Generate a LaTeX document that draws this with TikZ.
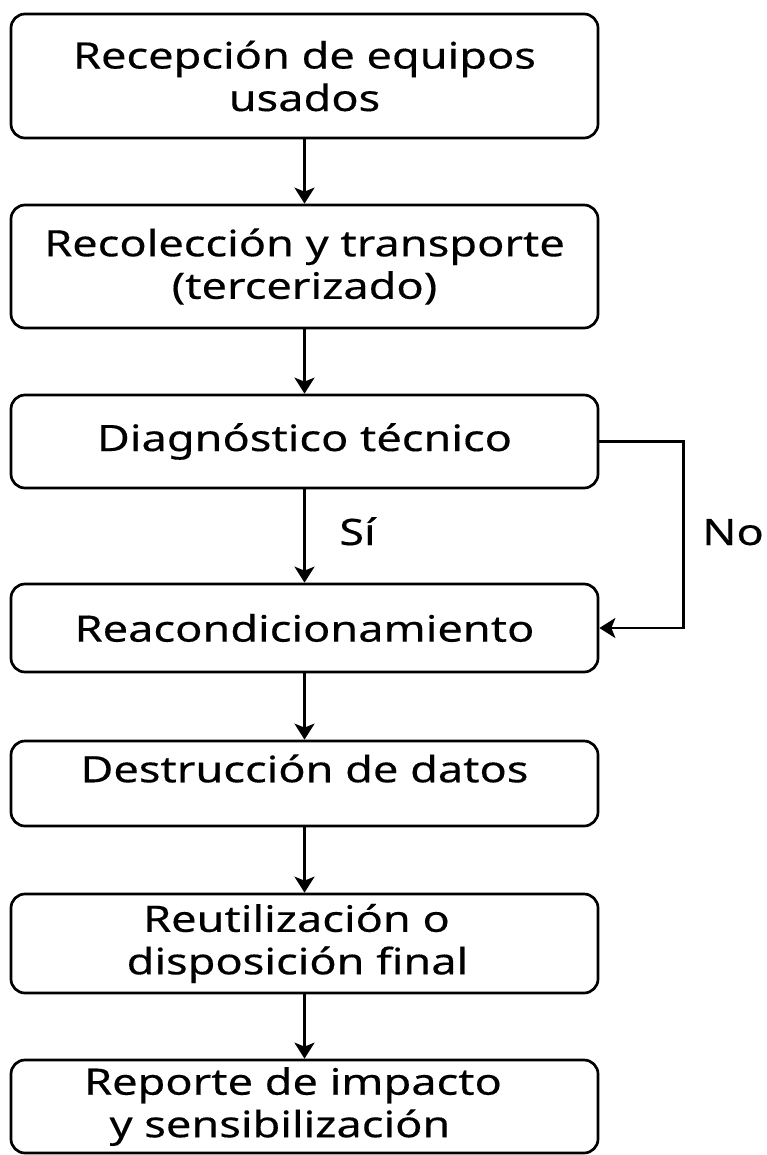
\documentclass[tikz,border=0pt]{standalone}
\usepackage{fontspec}
\setmainfont{Noto Sans}[FakeStretch=1.24,FakeBold=0.3]
\usetikzlibrary{arrows.meta}
\begin{document}
\begin{tikzpicture}[x=1pt,y=-1pt,
  stepbox/.style={draw, line width=2.7pt, rounded corners=14pt, minimum width=587pt, inner sep=0pt, align=center, font=\fontsize{36.4}{42.5}\selectfont},
  conn/.style={line width=2.7pt, -{Stealth[length=16pt,width=20pt,inset=4pt]}},
  lbl/.style={font=\fontsize{36.4}{42.5}\selectfont, inner sep=0pt}]
\useasboundingbox[fill=white] (0,0) rectangle (766,1155);
\node[stepbox, minimum height=124pt] (n1) at (304.5,76) {Recepción de equipos\\usados};
\node[stepbox, minimum height=123pt] (n2) at (304.5,266.5) {Recolección y transporte\\(tercerizado)};
\node[stepbox, minimum height=93pt] (n3) at (304.5,441.5) {Diagnóstico técnico};
\node[stepbox, minimum height=88pt] (n4) at (304.5,628) {Reacondicionamiento};
\node[stepbox, minimum height=85pt] (n5) at (304.5,783.5) {\raisebox{15pt}[\height][\depth]{Destrucción de datos}};
\node[stepbox, minimum height=99pt] (n6) at (304.5,943.5) {Reutilización o\hspace*{16pt}\\disposición final\hspace*{14pt}};
\node[stepbox, minimum height=93pt] (n7) at (304.5,1106.5) {Reporte de impacto\hspace*{23pt}\\y sensibilización\hspace*{49pt}};
\draw[conn] (n1) -- (n2);
\draw[conn] (n2) -- (n3);
\draw[conn] (n3) -- (n4);
\draw[conn] (n4) -- (n5);
\draw[conn] (n5) -- (n6);
\draw[conn] (n6) -- (n7);
\draw[conn] (n3.east) -- ++(84,0) |- (n4.east);
\node[lbl, anchor=base] (si) at (357.5,545) {Sí};
\node[lbl, anchor=base] (no) at (733,545) {No};
\end{tikzpicture}
\end{document}
